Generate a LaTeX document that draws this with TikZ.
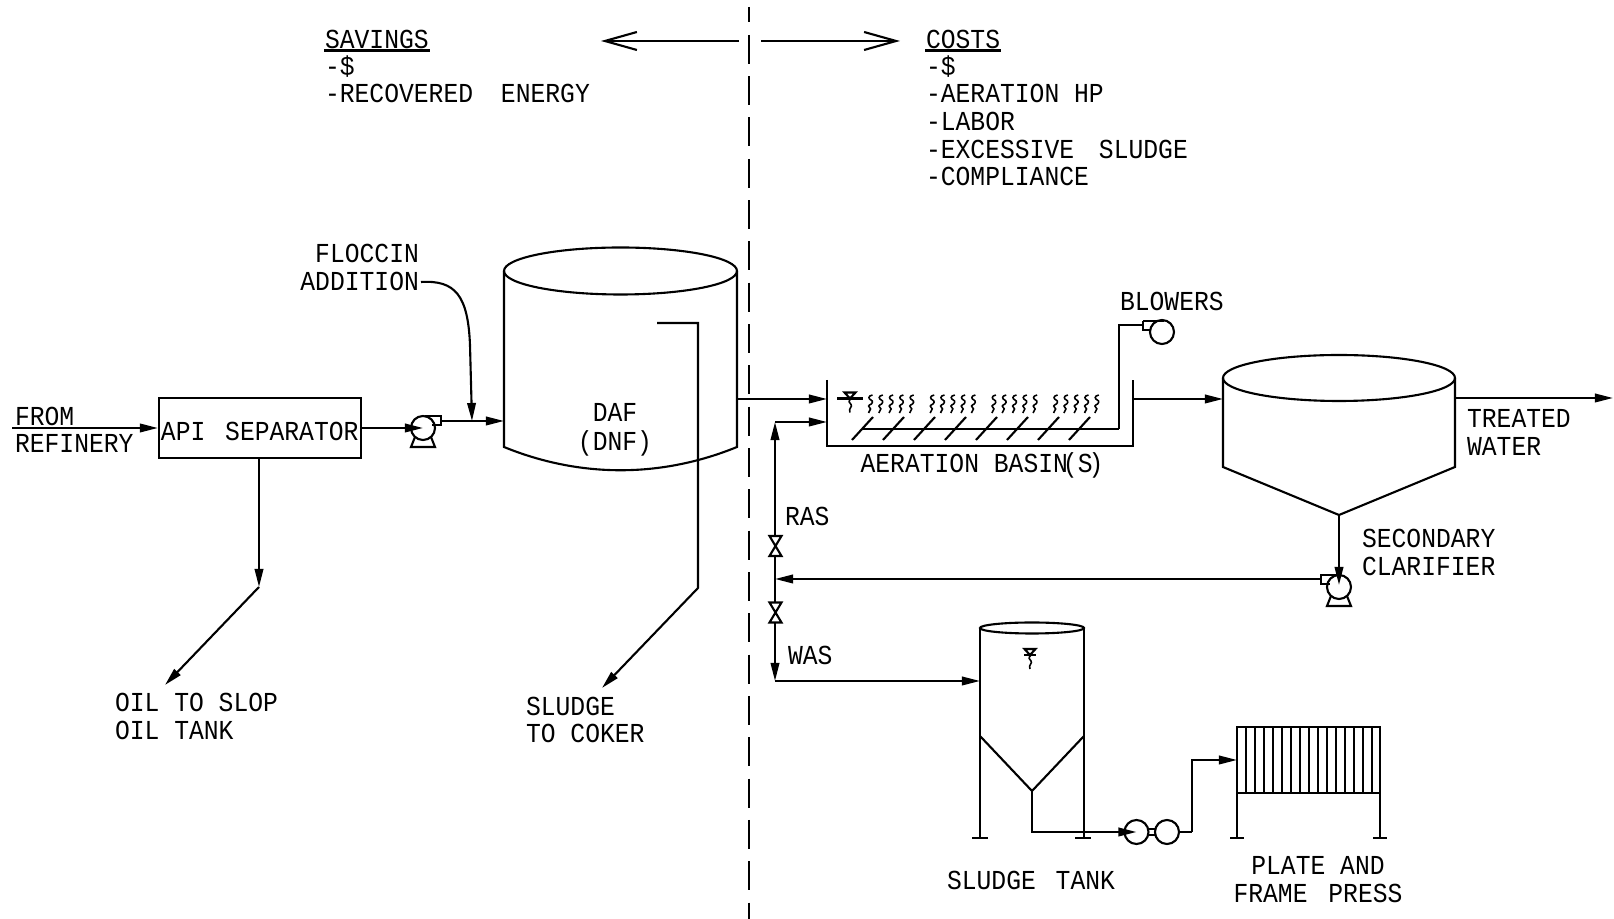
\documentclass[tikz,border=0pt]{standalone}
\usepackage{fontspec}
\usepackage{tikz}
\usetikzlibrary{positioning, arrows.meta, calc}
\newfontfamily\cadfont[FakeStretch=0.9]{Liberation Mono}

\begin{document}
\begin{tikzpicture}[
    x=0.01cm, y=-0.01cm,
    line width=0.6pt,
    lbl/.style={inner sep=0pt, anchor=west, text height=0.18cm, text depth=0pt, font=\cadfont\fontsize{7.8pt}{9pt}\selectfont},
    lblc/.style={lbl, anchor=center},
    lblr/.style={lbl, anchor=east},
    flow/.style={-{Triangle[length=0.18cm,width=0.085cm]}},
    wideflow/.style={-{Straight Barb[length=0.32cm,width=0.18cm]}},
    pumpcase/.style={circle, draw, inner sep=0pt, minimum size=0.24cm},
    wiggle/.pic={\draw[line width=0.45pt] (3,0) .. controls (-2,1) and (-1,4) .. (1.5,5) .. controls (4,6) and (3,9) .. (0,10) .. controls (-3,11) and (3,14) .. (0.5,15) -- (-1,18);},
    pumpsym/.pic={
        \node[pumpcase] at (0,0) {};
        \draw (2,-12) -- (18,-12) -- (18,-3) -- (9,-3);
        \draw (-8,9) -- (-12,19) -- (12,19) -- (8,9);
    },
    levelsym/.pic={
        \draw (-5.5,-6) -- (5.5,-6) -- (0,0) -- cycle;
        \draw[line width=0.45pt] (1,0) .. controls (-2,3) and (-1,4) .. (1,6) .. controls (3,8) and (-2,10) .. (0,14);
    },
    valvesym/.pic={\draw[fill=white] (-6,-10) -- (6,-10) -- (-6,10) -- (6,10) -- cycle;}
]
\useasboundingbox (0,0) rectangle (1614,919);

\coordinate (dashtop) at (749,7);
\coordinate (dashbot) at (749,919);
\draw[dash pattern=on 0.29cm off 0.123cm, dash phase=0.135cm] (dashtop) -- (dashbot);

\coordinate (saveend) at (739,41);
\coordinate (savetip) at (601,41);
\coordinate (costend) at (761,41);
\coordinate (costtip) at (900,41);
\draw[wideflow] (saveend) -- (savetip);
\draw[wideflow] (costend) -- (costtip);

\node[lbl] (savings) at (324,40) {SAVINGS};
\node[lbl] (savedollar) at (324,67) {-\$};
\node[lbl] (saveenergy) at (324,94) {-RECOVERED\hspace{0.13cm} ENERGY};
\node[lbl] (costs) at (925,40) {COSTS};
\node[lbl] (costdollar) at (925,67) {-\$};
\node[lbl] (costaer) at (925,94) {-AERATION HP};
\node[lbl] (costlabor) at (925,122) {-LABOR};
\node[lbl] (costsludge) at (925,150) {-EXCESSIVE\hspace{0.1cm} SLUDGE};
\node[lbl] (costcomp) at (925,177) {-COMPLIANCE};
\draw ($(savings.south west)+(0,0.5)$) -- ($(savings.south east)+(0,0.5)$);
\draw ($(costs.south west)+(0,0.5)$) -- ($(costs.south east)+(0,0.5)$);

\node[draw, inner sep=0pt, minimum width=2.015cm, minimum height=0.6cm] (api) at (259.75,428) {};
\node[lblc] (apilabel) at (259.75,432) {API\hspace{0.05cm} SEPARATOR};
\coordinate (feed) at (12,428);
\node[lbl] (from) at (14,417) {FROM};
\node[lbl] (refinery) at (14,444) {REFINERY};
\draw[flow] (feed) -- (api.west);

\pic at (423,428) {pumpsym};
\coordinate (pumpin) at (423,428);
\coordinate (pumpout) at (441,421);
\coordinate (dafin) at (504,421);
\draw[flow] (api.east |- pumpin) -- (pumpin);
\draw[flow] (pumpout) -- (dafin);

\node[lblr] (floccin) at (420,254) {FLOCCIN};
\node[lblr] (addition) at (420,282) {ADDITION};
\coordinate (floctip) at (472,421);
\draw[flow] ($(addition.east)+(1,0)$) .. controls (455,280) and (468,295) .. (470,345) -- (floctip);

\coordinate (apidrop) at (259,587);
\coordinate (oiltip) at (165,685);
\draw[flow] (api.south -| apidrop) -- (apidrop);
\draw[flow] (apidrop) -- (oiltip);
\node[lbl] (oilslop) at (114,703) {OIL TO SLOP};
\node[lbl] (oiltank) at (114,731) {OIL TANK};

\draw (504,271) -- (504,447) .. controls (580,478) and (661,478) .. (737,447) -- (737,271);
\draw (620.5,271) ellipse [x radius=116.5, y radius=23.5];
\node[lblc] (daf) at (615,413) {DAF};
\node[lblc] (dnf) at (615,442) {(DNF)};
\coordinate (sludgein) at (657,323);
\coordinate (sludgedrop) at (698,588);
\coordinate (sludgetip) at (602,688);
\draw[flow] (sludgein) -| (sludgedrop) -- (sludgetip);
\node[lbl] (sludge) at (525,707) {SLUDGE};
\node[lbl] (coker) at (525,734) {TO COKER};

\draw (827,380) -- (827,446) -- (1133,446) -- (1133,380);
\node[lblc] (basin) at (982,464) {AERATION BASIN\kern-0.05cm(S\kern-0.04cm)};
\coordinate (dafout) at (737,399);
\coordinate (basinin) at (827,399);
\draw[flow] (dafout) -- (basinin);
\pic at (850,398.5) {levelsym};
\draw (837,398.5) -- (863,398.5);
\foreach \g in {0,1,2,3}
    \foreach \b in {0,...,4}
        \pic at (869.5+61.7*\g+10.3*\b,395) {wiggle};
\foreach \d in {0,...,7}
    \draw (852+31*\d,440) -- (873+31*\d,417);
\coordinate (airstart) at (862,429);
\coordinate (aircorner) at (1119,325);
\draw[line width=0.8pt] (airstart) -- (aircorner |- airstart);
\draw (aircorner |- airstart) -- (aircorner) -- (1143,325);
\node[pumpcase] (blower) at (1162,332) {};
\draw (1143,321) -- (1164,321);
\draw (1143,321) -- (1143,330) -- (1151,330);
\node[lbl] (blowers) at (1119,302) {BLOWERS};

\coordinate (basinout) at (1133,399);
\coordinate (clarin) at (1223,399);
\draw[flow] (basinout) -- (clarin);
\draw (1223,378) -- (1223,467) -- (1339,515) -- (1455,467) -- (1455,378);
\draw (1339,378) ellipse [x radius=116, y radius=23];
\coordinate (clarout) at (1455,398);
\coordinate (treated) at (1613,398);
\draw[flow] (clarout) -- (treated);
\node[lbl] (treatedlabel) at (1466,419) {TREATED};
\node[lbl] (water) at (1466,447) {WATER};
\node[lbl] (secondary) at (1361,539) {SECONDARY};
\node[lbl] (clarifier) at (1361,567) {CLARIFIER};

\pic[xscale=-1] at (1339,587) {pumpsym};
\coordinate (vertex) at (1339,515);
\coordinate (raspump) at (1339,585);
\draw[flow] (vertex) -- (raspump);
\coordinate (junction) at (775,579);
\coordinate (pumpleft) at (1320,579);
\draw[flow] (pumpleft) -- (junction);

\coordinate (rascorner) at (775,422);
\coordinate (rastip) at (827,422);
\coordinate (wascorner) at (775,681);
\coordinate (wastip) at (980,681);
\draw[flow] (junction) -- (rascorner);
\draw[flow] (rascorner) -- (rastip);
\draw[flow] (junction) -- (wascorner);
\draw[flow] (wascorner) -- (wastip);
\pic at (775.5,546) {valvesym};
\pic at (775.5,612.5) {valvesym};
\node[lbl] (ras) at (784,517) {RAS};
\node[lbl] (was) at (787,656) {WAS};

\draw (980,628) -- (980,838);
\draw (1084,628) -- (1084,838);
\draw (1032,628) ellipse [x radius=52, y radius=5.5];
\draw (972,838) -- (988,838);
\draw (1075,838) -- (1091,838);
\draw (980,736) -- (1032,791) -- (1084,736);
\pic at (1030,655) {levelsym};
\draw (1024,655) -- (1036,655);
\node[lblc] (sludgetank) at (1031,880) {SLUDGE\hspace{0.05cm} TANK};

\node[pumpcase] (lobea) at (1136.5,832) {};
\node[pumpcase] (lobeb) at (1167,832) {};
\draw (1148.5,829) -- (1155,829);
\draw (1148.5,835) -- (1155,835);
\coordinate (tankout) at (1032,791);
\draw[flow] (tankout) |- (lobea.center);
\coordinate (pressin) at (1237,760);
\coordinate (lift) at (1192,832);
\draw (lobeb.east) -- (lift);
\draw[flow] (lift) |- (pressin);

\draw (1237,838) -- (1237,727) -- (1380,727) -- (1380,838);
\draw (1237,793) -- (1380,793);
\foreach \p in {0,...,14}
    \draw (1246+9*\p,727) -- (1246+9*\p,793);
\draw (1230,838) -- (1244,838);
\draw (1373,838) -- (1387,838);
\node[lblc] (plate) at (1318,866) {PLATE AND};
\node[lblc] (frame) at (1318,893) {FRAME\hspace{0.06cm} PRESS};
\end{tikzpicture}
\end{document}
